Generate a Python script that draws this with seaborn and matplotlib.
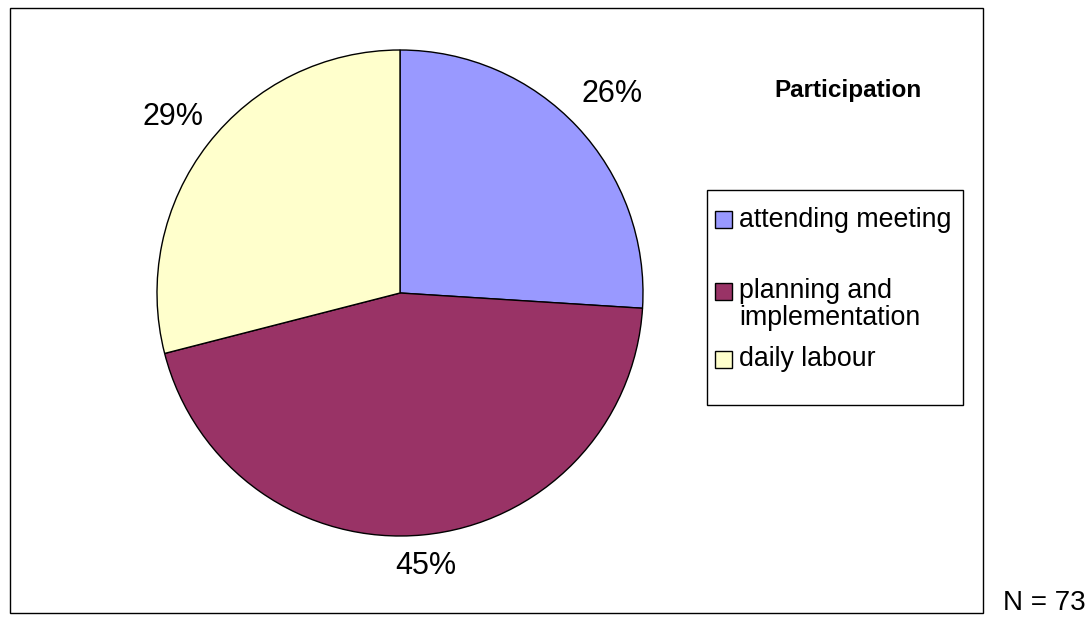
import matplotlib
matplotlib.use("Agg")
import matplotlib.pyplot as plt
import seaborn as sns
import numpy as np
from matplotlib.patches import Rectangle

categories = ["attending meeting", "planning and\nimplementation", "daily labour"]
shares = [26, 45, 29]
colors = ["#9999FF", "#993366", "#FFFFCC"]
label_dist = [1.195, 1.127, 1.18]
title = "Participation"
note = "N = 73"

sns.set_theme(style="white")
plt.rcParams["font.family"] = ["Liberation Sans", "DejaVu Sans"]

W, H = 1092, 625
fig = plt.figure(figsize=(W / 100, H / 100), dpi=100)
fig.patch.set_facecolor("white")

def fx(px):
    return px / W

def fy(py):
    return 1 - py / H

# outer chart frame
fig.patches.append(Rectangle((fx(10), fy(613)), fx(983) - fx(10), fy(8) - fy(613),
                             transform=fig.transFigure, fill=False,
                             edgecolor="black", linewidth=1.0))

# pie axes: centre (400, 293), radius 243 px
cx, cy, r = 400, 293, 243
ax = fig.add_axes([fx(cx - r), fy(cy + r), 2 * r / W, 2 * r / H])
wedges, _ = ax.pie(shares, colors=colors, startangle=90, counterclock=False,
                   radius=1.0, wedgeprops=dict(edgecolor="black", linewidth=1.0))
ax.set_xlim(-1, 1)
ax.set_ylim(-1, 1)
ax.set_aspect("auto")
ax.axis("off")

total = sum(shares)
for w, v, d in zip(wedges, shares, label_dist):
    ang = np.deg2rad((w.theta1 + w.theta2) / 2)
    ax.text(d * np.cos(ang), d * np.sin(ang), f"{round(100 * v / total)}%",
            ha="center", va="center", fontsize=22, color="black", clip_on=False)

# title
fig.text(fx(848), fy(90), title, ha="center", va="center",
         fontsize=17.5, fontweight="bold", color="black")

# legend box
fig.patches.append(Rectangle((fx(707), fy(405)), fx(963) - fx(707), fy(190) - fy(405),
                             transform=fig.transFigure, fill=False,
                             edgecolor="black", linewidth=1.0))
row_y = [219.5, 291, 359]
for name, col, yy in zip(categories, colors, row_y):
    fig.patches.append(Rectangle((fx(715), fy(yy + 8.5)), 17 / W, 17 / H,
                                 transform=fig.transFigure, facecolor=col,
                                 edgecolor="black", linewidth=1.0))
    fig.text(fx(739), fy(yy - 12.5), name, ha="left", va="top",
             fontsize=19.3, color="black", linespacing=1.02)

fig.text(fx(1003), fy(603), note, ha="left", va="center", fontsize=20, color="black")

fig.savefig("out.png", dpi=100, facecolor="white")
